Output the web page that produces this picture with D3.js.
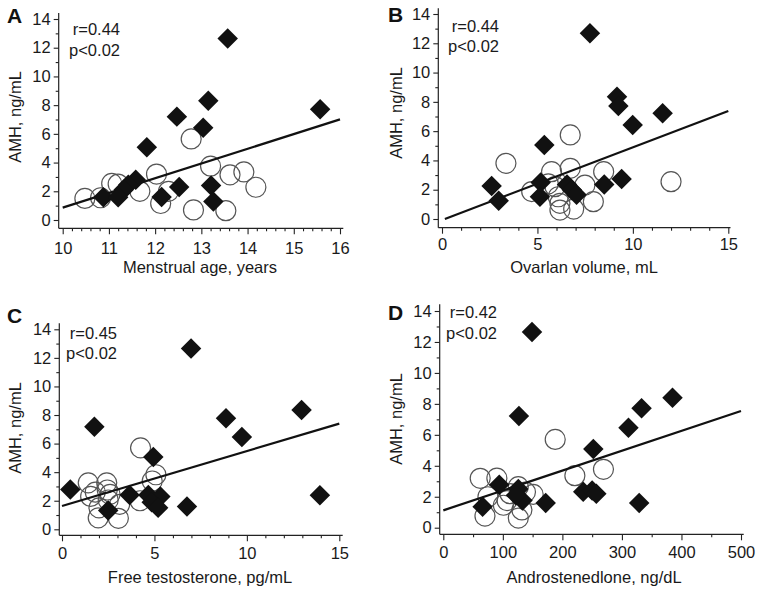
<!DOCTYPE html>
<html>
<head>
<meta charset="utf-8">
<script src="https://cdnjs.cloudflare.com/ajax/libs/d3/7.8.5/d3.min.js"></script>
<style>
  html, body { margin: 0; padding: 0; background: #fff; }
  svg { display: block; font-family: "Liberation Sans", Arial, Helvetica, sans-serif; }
</style>
</head>
<body>
<svg id="chart" width="762" height="593"></svg>
<script>
// ---------- DATA ----------
const panelLabels = ["A", "B", "C", "D"];
const xTitles = ["Menstrual age, years", "Ovarlan volume, mL", "Free testosterone, pg/mL", "Androstenedlone, ng/dL"];
const yTitle = "AMH, ng/mL";
const rTexts = ["r=0.44", "r=0.44", "r=0.45", "r=0.42"];
const pTexts = ["p<0.02", "p<0.02", "p<0.02", "p<0.02"];

const yMajorTicks = [0, 2, 4, 6, 8, 10, 12, 14];
const yMinorTicks = [1, 3, 5, 7, 9, 11, 13];

const aXTicks = [10, 11, 12, 13, 14, 15, 16];
const bXTicks = [0, 5, 10, 15];
const cXTicks = [0, 5, 10, 15];
const dXTicks = [0, 100, 200, 300, 400, 500];
const aXMinorStep = 0.2, bXMinorStep = 1, cXMinorStep = 1, dXMinorStep = 50;

// Panel A: menstrual age
const aFilledX = [13.57, 15.57, 13.15, 12.47, 13.04, 11.82, 11.58, 11.42, 11.32, 10.88, 11.2, 12.14, 12.52, 13.21, 13.26];
const aFilledY = [12.65, 7.71, 8.31, 7.2, 6.43, 5.06, 2.8, 2.45, 2.1, 1.58, 1.58, 1.6, 2.3, 2.4, 1.28];
const aOpenX = [10.48, 10.82, 11.06, 11.2, 11.67, 12.03, 12.12, 12.29, 12.78, 12.83, 13.2, 13.53, 13.62, 13.92, 14.18];
const aOpenY = [1.5, 1.55, 2.55, 2.5, 2.0, 3.2, 1.15, 2.0, 5.65, 0.7, 3.75, 0.65, 3.15, 3.35, 2.28];
const aFitX = [10, 16];
const aFitY = [0.86, 7.01];

// Panel B: ovarian volume
const bFilledX = [7.75, 9.17, 9.24, 9.99, 11.56, 5.36, 2.6, 2.97, 5.17, 5.13, 6.55, 6.8, 7.05, 8.5, 9.41];
const bFilledY = [12.68, 8.35, 7.72, 6.42, 7.22, 5.05, 2.25, 1.25, 2.5, 1.52, 2.35, 2.0, 1.65, 2.35, 2.73];
const bOpenX = [3.35, 6.72, 12.0, 8.47, 6.72, 5.74, 4.7, 5.57, 5.92, 6.09, 6.18, 6.18, 6.9, 7.49, 7.93];
const bOpenY = [3.8, 5.74, 2.55, 3.23, 3.46, 3.23, 1.87, 2.4, 2.21, 1.52, 1.07, 0.61, 0.68, 2.32, 1.18];
const bFitX = [0.15, 15];
const bFitY = [0.0, 7.38];

// Panel C: free testosterone
const cFilledX = [6.98, 1.75, 8.87, 9.73, 12.96, 13.95, 4.94, 0.45, 3.66, 4.67, 5.32, 4.85, 5.2, 6.76, 2.5];
const cFilledY = [12.65, 7.17, 7.77, 6.46, 8.35, 2.38, 5.06, 2.78, 2.4, 2.4, 2.3, 1.9, 1.5, 1.6, 1.32];
const cOpenX = [4.25, 5.08, 4.88, 1.42, 2.42, 1.8, 2.6, 2.5, 2.0, 1.96, 3.05, 3.12, 4.22, 1.55, 2.45];
const cOpenY = [5.7, 3.82, 3.38, 3.25, 3.25, 2.6, 2.45, 2.05, 1.5, 0.8, 0.77, 1.75, 2.0, 2.3, 2.75];
const cFitX = [0, 15];
const cFitY = [1.63, 7.4];

// Panel D: androstenedione
const dFilledX = [149, 127, 333, 385, 311, 252, 329, 66, 94, 126, 133, 122, 172, 235, 250, 257];
const dFilledY = [12.64, 7.22, 7.71, 8.4, 6.46, 5.08, 1.6, 1.36, 2.78, 2.5, 1.75, 2.1, 1.6, 2.33, 2.4, 2.2];
const dOpenX = [62, 90, 188, 221, 269, 70, 126, 132, 107, 101, 151, 75, 112, 126, 138];
const dOpenY = [3.19, 3.2, 5.7, 3.36, 3.77, 0.75, 0.62, 1.15, 1.75, 1.45, 2.15, 2.0, 2.2, 2.65, 2.3];
const dFitX = [0, 500];
const dFitY = [1.12, 7.54];

// ---------- LAYOUT (pixel positions, not data) ----------
const layout = [
  { xr: [62.7, 340], yr: [220, 19], axisX: 58.7, axisY: 228.3, yTop: 13, xRight: 343.3,
    lab: [7, 23], stat: [120, 35, 56], yt: [21, 117], xt: [200, 273], xPad: 8 },
  { xr: [442, 728.3], yr: [219, 14], axisX: 438.3, axisY: 227.7, yTop: 8.3, xRight: 730.5,
    lab: [388, 22], stat: [499, 32, 52], yt: [402, 113], xt: [584, 273], xPad: 5 },
  { xr: [62, 339.3], yr: [529.3, 329.3], axisX: 59.3, axisY: 535.3, yTop: 323.3, xRight: 342.7,
    lab: [7, 322.5], stat: [117, 339, 359], yt: [21, 428], xt: [200, 582.5], xPad: 6.3 },
  { xr: [443.3, 741], yr: [527.7, 311], axisX: 439.7, axisY: 534.3, yTop: 304.3, xRight: 743.7,
    lab: [388, 320], stat: [497, 318, 339], yt: [402, 419], xt: [594, 583], xPad: 6.3 }
];

const panels = [
  { xDomain: [10, 16], xTicks: aXTicks, minorStep: aXMinorStep, fx: aFilledX, fy: aFilledY, ox: aOpenX, oy: aOpenY, fitX: aFitX, fitY: aFitY },
  { xDomain: [0, 15], xTicks: bXTicks, minorStep: bXMinorStep, fx: bFilledX, fy: bFilledY, ox: bOpenX, oy: bOpenY, fitX: bFitX, fitY: bFitY },
  { xDomain: [0, 15], xTicks: cXTicks, minorStep: cXMinorStep, fx: cFilledX, fy: cFilledY, ox: cOpenX, oy: cOpenY, fitX: cFitX, fitY: cFitY },
  { xDomain: [0, 500], xTicks: dXTicks, minorStep: dXMinorStep, fx: dFilledX, fy: dFilledY, ox: dOpenX, oy: dOpenY, fitX: dFitX, fitY: dFitY }
];

const svg = d3.select("#chart");
const FS = 16.5;
const INK = "#1a1a1a";

panels.forEach((p, i) => {
  const L = layout[i];
  const g = svg.append("g");
  const x = d3.scaleLinear().domain(p.xDomain).range(L.xr);
  const y = d3.scaleLinear().domain([0, 14]).range(L.yr);

  const minor = d3.range(p.xDomain[0], p.xDomain[1] + p.minorStep / 2, p.minorStep)
    .filter(v => !p.xTicks.some(t => Math.abs(t - v) < 1e-6));

  const yAx = g.append("g").attr("transform", `translate(${L.axisX},0)`)
    .call(d3.axisLeft(y).tickValues(yMajorTicks).tickSize(5).tickPadding(3).tickFormat(d3.format("d")));
  yAx.select(".domain").remove();
  const yMin = g.append("g").attr("transform", `translate(${L.axisX},0)`)
    .call(d3.axisLeft(y).tickValues(yMinorTicks).tickSize(3).tickFormat(""));
  yMin.select(".domain").remove();

  const xAx = g.append("g").attr("transform", `translate(0,${L.axisY})`)
    .call(d3.axisBottom(x).tickValues(p.xTicks).tickSize(6).tickPadding(L.xPad).tickFormat(d3.format("d")));
  xAx.select(".domain").remove();
  const xMin = g.append("g").attr("transform", `translate(0,${L.axisY})`)
    .call(d3.axisBottom(x).tickValues(minor).tickSize(3).tickFormat(""));
  xMin.select(".domain").remove();

  g.selectAll(".tick line").attr("stroke", "#222").attr("stroke-width", 1.1);
  g.selectAll(".tick text").attr("font-size", FS).attr("fill", INK)
    .attr("font-family", "Liberation Sans, Arial, Helvetica, sans-serif");

  g.append("line").attr("x1", L.axisX).attr("x2", L.axisX).attr("y1", L.yTop).attr("y2", L.axisY)
    .attr("stroke", "#222").attr("stroke-width", 1.2);
  g.append("line").attr("x1", L.axisX).attr("x2", L.xRight).attr("y1", L.axisY).attr("y2", L.axisY)
    .attr("stroke", "#222").attr("stroke-width", 1.2);

  const openData = p.ox.map((v, k) => [v, p.oy[k]]);
  g.append("g").selectAll("circle").data(openData).join("circle")
    .attr("cx", d => x(d[0])).attr("cy", d => y(d[1])).attr("r", 10)
    .attr("fill", "none").attr("stroke", "#555").attr("stroke-width", 1.2);

  g.append("line")
    .attr("x1", x(p.fitX[0])).attr("y1", y(p.fitY[0]))
    .attr("x2", x(p.fitX[1])).attr("y2", y(p.fitY[1]))
    .attr("stroke", "#111").attr("stroke-width", 2.2);

  const filledData = p.fx.map((v, k) => [v, p.fy[k]]);
  const dia = d3.symbol().type(d3.symbolSquare).size(210);
  g.append("g").selectAll("path").data(filledData).join("path")
    .attr("d", dia)
    .attr("transform", d => `translate(${x(d[0])},${y(d[1])}) rotate(45)`)
    .attr("fill", "#111");

  g.append("text").attr("x", L.lab[0]).attr("y", L.lab[1]).text(panelLabels[i])
    .attr("font-size", 21).attr("font-weight", "bold").attr("fill", "#111");
  g.append("text").attr("x", L.stat[0]).attr("y", L.stat[1]).attr("text-anchor", "end")
    .attr("font-size", FS).attr("fill", INK).text(rTexts[i]);
  g.append("text").attr("x", L.stat[0]).attr("y", L.stat[2]).attr("text-anchor", "end")
    .attr("font-size", FS).attr("fill", INK).text(pTexts[i]);
  g.append("text").attr("transform", `translate(${L.yt[0]},${L.yt[1]}) rotate(-90)`)
    .attr("text-anchor", "middle").attr("font-size", FS).attr("fill", INK).text(yTitle);
  g.append("text").attr("x", L.xt[0]).attr("y", L.xt[1]).attr("text-anchor", "middle")
    .attr("font-size", FS).attr("fill", INK).text(xTitles[i]);
});
</script>
</body>
</html>
